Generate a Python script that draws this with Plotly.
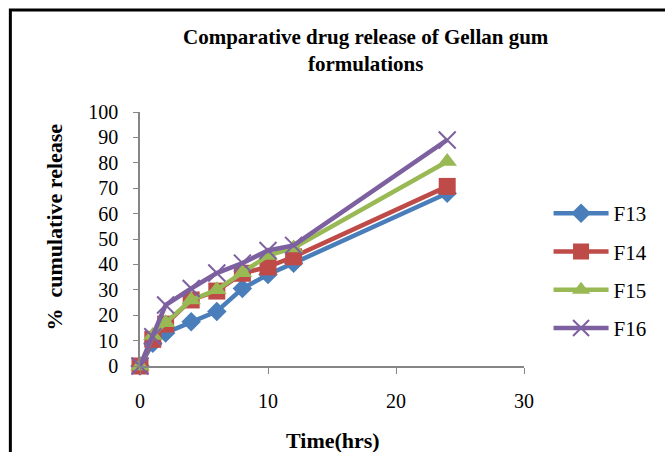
import plotly.graph_objects as go

time_hrs = [0, 1, 2, 4, 6, 8, 10, 12, 24]
f13 = [0, 9, 13, 17.4, 21.5, 30.5, 36, 40.5, 68]
f14 = [0, 10.5, 16.5, 26, 29.5, 36.5, 39, 43, 70.7]
f15 = [0, 12, 17, 26, 30, 36.7, 43.5, 46.5, 80.5]
f16 = [0, 11.5, 24, 30.5, 36.6, 40.5, 45.5, 47.5, 89]

series = [
    ("F13", f13, "#4A7EBB", "diamond", 15),
    ("F14", f14, "#BE4B48", "square", 17),
    ("F15", f15, "#98B954", "triangle-up", 17),
    ("F16", f16, "#7D60A0", "x-thin-open", 17),
]

SERIF = "Liberation Serif, Times New Roman, serif"

fig = go.Figure()
for i, (name, vals, color, sym, size) in enumerate(series):
    marker = dict(symbol=sym, size=size, color=color)
    if sym.startswith("x-thin"):
        marker["line"] = dict(color=color, width=2)
    fig.add_trace(go.Scatter(
        x=time_hrs, y=vals, name=name, mode="lines+markers",
        line=dict(color=color, width=4.5), marker=marker,
        cliponaxis=False, legendgroup=name,
    ))

L, R, T, B = 140, 134, 112, 86
W, H = 665, 452
pw, ph = W - L - R, H - T - B

def px(x):
    return (x - L) / pw

def py(y):
    return (H - B - y) / ph

fig.update_layout(
    width=W, height=H,
    margin=dict(l=L, r=R, t=T, b=B),
    paper_bgcolor="white", plot_bgcolor="white",
    font=dict(family=SERIF, color="black", size=20),
    showlegend=True,
    legend=dict(x=px(556), y=py(193), xanchor="left", yanchor="top",
                font=dict(family=SERIF, size=21), tracegroupgap=8,
                itemwidth=55),
    xaxis=dict(range=[0, 30], dtick=10, showgrid=False, zeroline=False,
               showline=True, linecolor="#868686", linewidth=1.5,
               ticks="outside", ticklen=6, tickcolor="#868686",
               ticklabelstandoff=10, tickfont=dict(size=20)),
    yaxis=dict(range=[0, 100], dtick=10, showgrid=False, zeroline=False,
               showline=True, linecolor="#868686", linewidth=1.5,
               ticks="outside", ticklen=5, tickcolor="#868686",
               ticklabelstandoff=11, tickfont=dict(size=20)),
    annotations=[
        dict(text="<b>Comparative drug release of Gellan gum<br>formulations</b>",
             x=px(370), y=py(51), xref="paper", yref="paper",
             xanchor="center", yanchor="middle", showarrow=False,
             font=dict(family=SERIF, size=21)),
        dict(text="<b>%  cumulative release</b>", textangle=-90,
             x=px(52), y=py(227), xref="paper", yref="paper",
             xanchor="center", yanchor="middle", showarrow=False,
             font=dict(family=SERIF, size=22)),
        dict(text="<b>Time(hrs)</b>",
             x=px(337), y=py(440), xref="paper", yref="paper",
             xanchor="center", yanchor="middle", showarrow=False,
             font=dict(family=SERIF, size=22)),
    ],
    shapes=[
        dict(type="rect", xref="paper", yref="paper",
             x0=px(8), x1=px(700), y0=py(500), y1=py(10),
             line=dict(color="black", width=3), fillcolor="rgba(0,0,0,0)",
             layer="below"),
    ],
)

fig.write_html("out.html")
